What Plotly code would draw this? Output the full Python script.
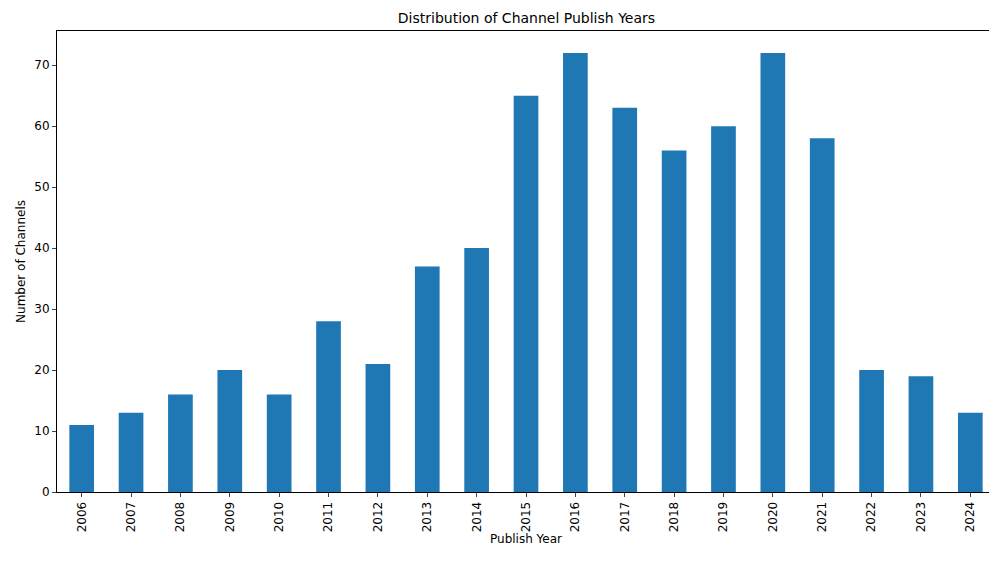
import plotly.graph_objects as go

years = [str(y) for y in range(2006, 2025)]
channels = [11, 13, 16, 20, 16, 28, 21, 37, 40, 65, 72, 63, 56, 60, 72, 58, 20, 19, 13]

fig = go.Figure(go.Bar(x=years, y=channels, marker_color="#1f77b4",
                       marker_line_width=0, width=0.5))

fig.update_layout(
    width=997, height=567,
    margin=dict(l=49, r=10, t=23, b=83),
    plot_bgcolor="white", paper_bgcolor="white",
    font=dict(family="DejaVu Sans", size=12, color="black"),
    title=dict(text="Distribution of Channel Publish Years", x=0.52, xanchor="center",
               y=0.99, yanchor="top", font=dict(size=14)),
    showlegend=False,
)
fig.update_xaxes(
    title=dict(text="Publish Year", standoff=3, font=dict(size=12)),
    range=[-0.5, 18.5], tickangle=-90, ticks="outside", ticklen=4,
    showline=True, linecolor="black", mirror=True, showgrid=False,
    tickfont=dict(size=12),
)
fig.update_yaxes(
    title=dict(text="Number of Channels", standoff=6, font=dict(size=12)),
    range=[0, 75.6], dtick=10, ticks="outside", ticklen=4,
    showline=True, linecolor="black", mirror=True, showgrid=False, zeroline=False,
    tickfont=dict(size=12),
)

fig.write_html("out.html")
